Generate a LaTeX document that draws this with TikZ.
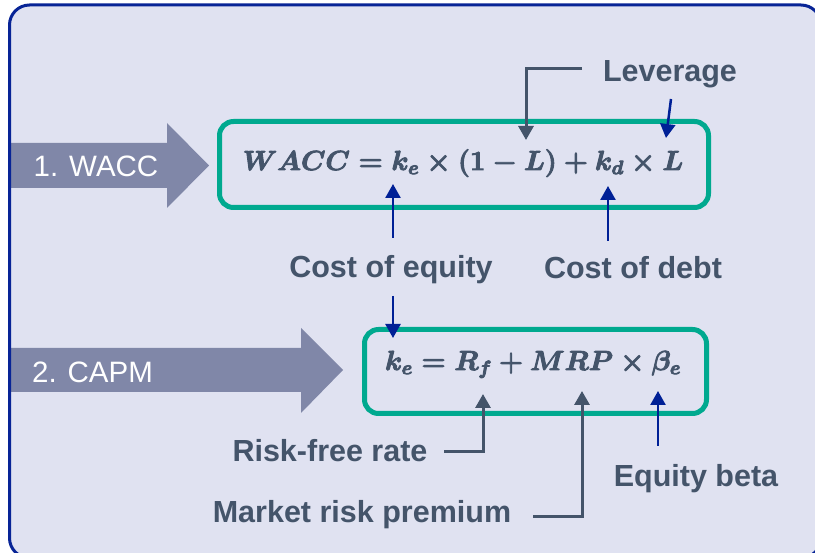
\RequirePackage{fix-cm}
\documentclass[tikz,border=0pt]{standalone}
\usepackage[no-math]{fontspec}
\newfontfamily\labfont{Liberation Sans}
\usetikzlibrary{arrows.meta}
\definecolor{bgc}{RGB}{224,226,241}
\definecolor{borderc}{RGB}{8,36,150}
\definecolor{slate}{RGB}{128,135,168}
\definecolor{tealc}{RGB}{0,169,143}
\definecolor{txt}{RGB}{68,84,106}
\definecolor{navy}{RGB}{0,32,150}
\def\strokeon{\special{pdf:literal direct 2 Tr 0.9 w}}
\def\strokeoff{\special{pdf:literal direct 0 Tr}}
\tikzset{
  lab/.style={font=\labfont\bfseries\fontsize{30.5}{36}\selectfont, text=txt, anchor=base, inner sep=0pt},
  bigtxt/.style={font=\labfont\fontsize{29.5}{35}\selectfont, text=white, anchor=base, inner sep=0pt},
  fbox/.style={draw=tealc, line width=5pt, rounded corners=14pt, inner sep=0pt},
  formula/.style={text=txt, anchor=base, inner sep=0pt, font=\fontsize{27.5}{33}\selectfont\boldmath},
  grayarr/.style={draw=txt, line width=3pt, -{Triangle[length=14pt,width=15pt]}},
  bluearr/.style={draw=navy, line width=2.5pt, -{Triangle[length=14pt,width=15pt]}},
  bigarrow/.style={fill=slate}
}
\begin{document}
\begin{tikzpicture}[x=1pt,y=-1pt]
\useasboundingbox (0,0) rectangle (815,553);
% background panel
\fill[bgc, rounded corners=20pt] (9.5,5) rectangle (821,558);
% big arrows
\fill[bigarrow] (8,143) -- (167,143) -- (167,123) -- (209,165.5) -- (167,208) -- (167,188) -- (8,188) -- cycle;
\fill[bigarrow] (8,348) -- (301,348) -- (301,328) -- (343,370) -- (301,413) -- (301,392) -- (8,392) -- cycle;
\draw[borderc, line width=3pt, rounded corners=20pt] (9.5,5) rectangle (821,558);
\node[bigtxt] (w) at (96,177) {1. WACC};
\node[bigtxt] (c) at (92.5,383) {2. CAPM};
% formula boxes
\node[fbox, minimum width=489pt, minimum height=86pt] (box1) at (464,164.5) {};
\node[formula] (f1) at (463,170) {\strokeon$WACC = k_e \times (1 - L) + k_d \times L$\strokeoff};
\node[fbox, minimum width=342pt, minimum height=84pt] (box2) at (535.5,371.5) {};
\node[formula] (f2) at (533,370) {\strokeon$k_e = R_f + MRP \times \beta_e$\strokeoff};
% labels
\node[lab] (lev) at (670,82) {Leverage};
\node[lab] (coe) at (391,278) {Cost of equity};
\node[lab] (cod) at (633,279) {Cost of debt};
\node[lab] (rf) at (330,462) {Risk-free rate};
\node[lab] (mrp) at (362,522) {Market risk premium};
\node[lab] (eb) at (696,487) {Equity beta};
% arrow end points
\coordinate (levA) at (582,69);
\coordinate (levT) at (526,140);
\coordinate (levB) at (671,99);
\coordinate (levBT) at (666,138);
\coordinate (coeA) at (393,238);
\coordinate (coeT) at (393,184);
\coordinate (codA) at (608,241);
\coordinate (codT) at (608,186);
\coordinate (coeD) at (393,296);
\coordinate (coeDT) at (393,338);
\coordinate (rfA) at (444,452);
\coordinate (rfT) at (483,394);
\coordinate (mrpA) at (533,517);
\coordinate (mrpT) at (582,391);
\coordinate (ebA) at (658,446);
\coordinate (ebT) at (658,391);
% connectors
\draw[grayarr] (levA) -| (levT);
\draw[bluearr] (levB) -- (levBT);
\draw[bluearr] (coeA) -- (coeT);
\draw[bluearr] (codA) -- (codT);
\draw[bluearr] (coeD) -- (coeDT);
\draw[grayarr] (rfA) -| (rfT);
\draw[grayarr] (mrpA) -| (mrpT);
\draw[bluearr] (ebA) -- (ebT);
\end{tikzpicture}
\end{document}
